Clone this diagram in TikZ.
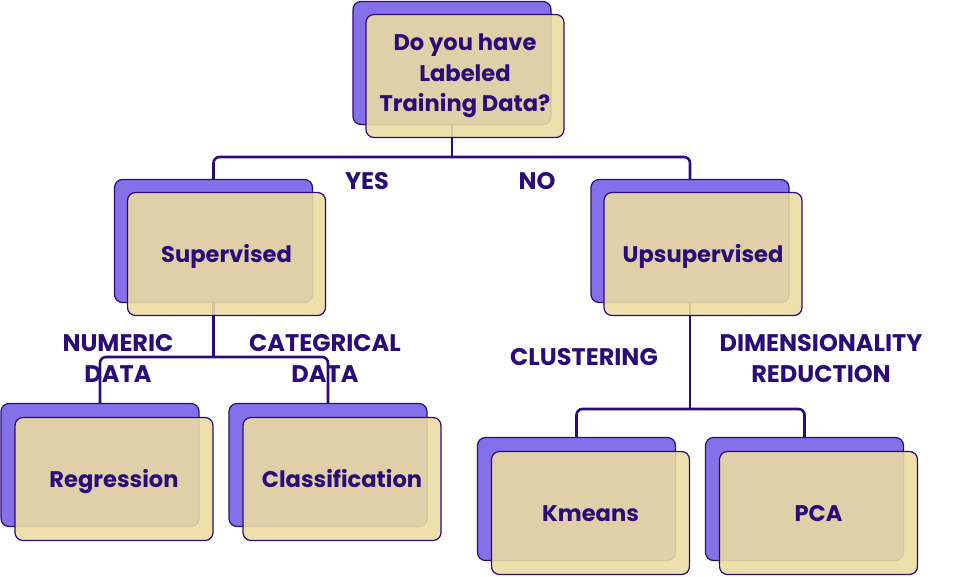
\documentclass[tikz,border=0pt]{standalone}
\usepackage{fontspec}
\setmainfont{Poppins}
\usetikzlibrary{backgrounds}
\definecolor{ink}{HTML}{2A0B78}
\definecolor{backc}{HTML}{8470E8}
\definecolor{frontc}{HTML}{EBDCA2}
\tikzset{
  backbox/.style={draw=ink, line width=1.2pt, fill=backc, rounded corners=8pt,
    minimum width=198pt, minimum height=123pt, inner sep=0pt},
  frontbox/.style={draw=ink, line width=1.2pt, fill=frontc, fill opacity=0.89,
    text opacity=1, rounded corners=8pt, minimum width=198pt, minimum height=123pt,
    inner sep=0pt, text=ink, font=\fontsize{22.6}{30.5}\selectfont\bfseries, align=center},
  oneline/.style={text height=16pt, text depth=0pt},
  conn/.style={draw=ink, line width=2.6pt, rounded corners=6pt},
  lbl/.style={text=ink, font=\fontsize{24}{31}\selectfont\bfseries, align=center, inner sep=0pt}
}
\begin{document}
\begin{tikzpicture}[x=1pt,y=-1pt]
\useasboundingbox (0,0) rectangle (955,576);
% junction coordinates
\coordinate (j1) at (452,157);
\coordinate (j2) at (213.5,357);
\coordinate (j3) at (690,409);
% back boxes
\node[backbox] (topb) at (452,63) {};
\node[backbox] (supb) at (213.5,241) {};
\node[backbox] (upb) at (690,241) {};
\node[backbox] (regb) at (100,465) {};
\node[backbox] (clsb) at (328,465) {};
\node[backbox] (kmb) at (576.5,499) {};
\node[backbox] (pcab) at (804.5,499) {};
% connectors beneath the boxes
\begin{scope}[on background layer]
\draw[conn] (topb.center) -- (j1);
\draw[conn] (j1) -| (supb.north);
\draw[conn] (j1) -| (upb.north);
\draw[conn] (supb.center) -- (j2);
\draw[conn] (j2) -| (regb.north);
\draw[conn] (j2) -| (clsb.north);
\draw[conn] (upb.center) -- (j3);
\draw[conn] (j3) -| (kmb.north);
\draw[conn] (j3) -| (pcab.north);
\end{scope}
% front boxes with text
\node[frontbox] (top) at ([shift={(13,13)}]topb.center) {Do you have\\Labeled\\Training Data?};
\node[frontbox, oneline] (sup) at ([shift={(13,13)}]supb.center) {Supervised};
\node[frontbox, oneline] (up) at ([shift={(13,13)}]upb.center) {Upsupervised};
\node[frontbox, oneline] (reg) at ([shift={(14,14)}]regb.center) {Regression};
\node[frontbox, oneline] (cls) at ([shift={(14,14)}]clsb.center) {Classification};
\node[frontbox, oneline] (km) at ([shift={(14,14)}]kmb.center) {Kmeans};
\node[frontbox, oneline] (pca) at ([shift={(14,14)}]pcab.center) {PCA};
% labels
\node[lbl] (yes) at (367,181) {YES};
\node[lbl] (no) at (537,181) {NO};
\node[lbl] (num) at (118,358.5) {NUMERIC\\DATA};
\node[lbl] (cat) at (325,358.5) {CATEGRICAL\\DATA};
\node[lbl] (clu) at (584,357) {CLUSTERING};
\node[lbl] (dim) at (821,358.5) {DIMENSIONALITY\\REDUCTION};
\end{tikzpicture}
\end{document}
